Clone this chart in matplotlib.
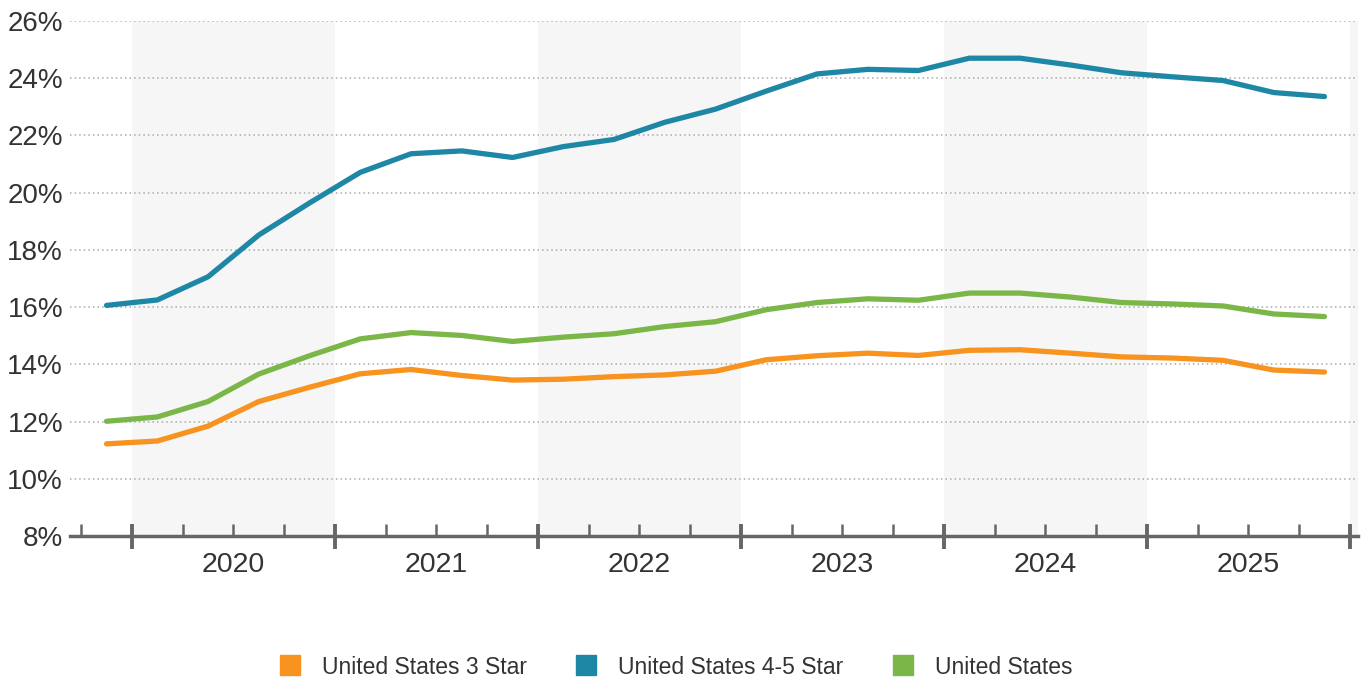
import matplotlib
matplotlib.use("Agg")
import matplotlib.pyplot as plt
from matplotlib.lines import Line2D
import numpy as np

plt.rcParams['font.family'] = ['Liberation Sans', 'DejaVu Sans']

# Quarterly periods (2019 Q4 .. 2025 Q4), plotted at quarter midpoints
quarters = ["2019Q4",
            "2020Q1", "2020Q2", "2020Q3", "2020Q4",
            "2021Q1", "2021Q2", "2021Q3", "2021Q4",
            "2022Q1", "2022Q2", "2022Q3", "2022Q4",
            "2023Q1", "2023Q2", "2023Q3", "2023Q4",
            "2024Q1", "2024Q2", "2024Q3", "2024Q4",
            "2025Q1", "2025Q2", "2025Q3", "2025Q4"]

us_3star = [11.22, 11.32, 11.84, 12.70, 13.20, 13.67, 13.82, 13.61, 13.45,
            13.48, 13.57, 13.63, 13.76, 14.16, 14.30, 14.39, 14.31,
            14.49, 14.51, 14.39, 14.26, 14.22, 14.14, 13.80, 13.73]
us_45star = [16.06, 16.25, 17.06, 18.52, 19.64, 20.71, 21.36, 21.46, 21.23,
             21.61, 21.86, 22.46, 22.92, 23.55, 24.15, 24.31, 24.27,
             24.70, 24.70, 24.46, 24.19, 24.05, 23.92, 23.50, 23.36]
us_all = [12.01, 12.16, 12.70, 13.66, 14.30, 14.89, 15.11, 15.01, 14.80,
          14.95, 15.07, 15.32, 15.49, 15.91, 16.16, 16.29, 16.24,
          16.49, 16.49, 16.35, 16.16, 16.11, 16.04, 15.76, 15.67]

series_names = ["United States 3 Star", "United States 4-5 Star", "United States"]
colors = ["#f7931e", "#1f87a6", "#7ab648"]
years = [2020, 2021, 2022, 2023, 2024, 2025]
y_ticks = [8, 10, 12, 14, 16, 18, 20, 22, 24, 26]

def q_to_x(q):
    y = int(q[:4]); n = int(q[-1])
    return y + (n - 1) * 0.25 + 0.125

x = np.array([q_to_x(q) for q in quarters])

fig = plt.figure(figsize=(13.69, 6.82), dpi=100)
ax = fig.add_axes([70/1369, 1 - 536/682, (1358 - 70)/1369, (536 - 21)/682])

xmin, xmax = 2019.695, 2026.04
ymin, ymax = 8, 26
ax.set_xlim(xmin, xmax)
ax.set_ylim(ymin, ymax)

# alternating year bands
for yr in [2020, 2022, 2024, 2026]:
    ax.axvspan(yr, min(yr + 1, xmax), color="#f6f6f6", zorder=0, lw=0)

# gridlines
for v in y_ticks[1:]:
    ax.axhline(v, color="#aaaaaa", lw=1.1, ls=(0, (1, 2)), zorder=1)

for vals, c, name in zip([us_3star, us_45star, us_all], colors, series_names):
    ax.plot(x, vals, color=c, lw=3.8, solid_capstyle="round", solid_joinstyle="round", zorder=3, label=name)

for s in ["top", "right", "left"]:
    ax.spines[s].set_visible(False)
ax.spines["bottom"].set_color("#666666")
ax.spines["bottom"].set_linewidth(2.5)

ax.set_yticks(y_ticks)
ax.set_yticklabels([f"{v}%" for v in y_ticks])
ax.tick_params(axis="y", length=0, pad=5, labelsize=20, labelcolor="#333333")

major = list(range(2020, 2027))
minor = [yq + k * 0.25 for yq in range(2019, 2027) for k in range(4)]
minor = [m for m in minor if xmin <= m <= xmax and m not in major]
ax.set_xticks(major)
ax.set_xticks(minor, minor=True)
ax.set_xticklabels([])
ax.tick_params(axis="x", which="major", direction="inout", length=18, width=2.8, color="#666666")
ax.tick_params(axis="x", which="minor", direction="in", length=9, width=1.8, color="#666666")

for yr in years:
    ax.text(yr + 0.5, -0.056, str(yr), transform=ax.get_xaxis_transform(),
            ha="center", va="center", fontsize=20.5, color="#333333")

handles = [Line2D([0], [0], marker="s", color="none", markerfacecolor=c, markeredgecolor=c,
                  markersize=14) for c in colors]
fig.legend(handles, series_names, loc="center", bbox_to_anchor=(0.5 - 9/1369, 1 - 667/682), ncol=3,
           frameon=False, fontsize=16.5, handlelength=1.0, handletextpad=0.9,
           columnspacing=2.1, labelcolor="#333333")

fig.savefig("out.png", dpi=100)
